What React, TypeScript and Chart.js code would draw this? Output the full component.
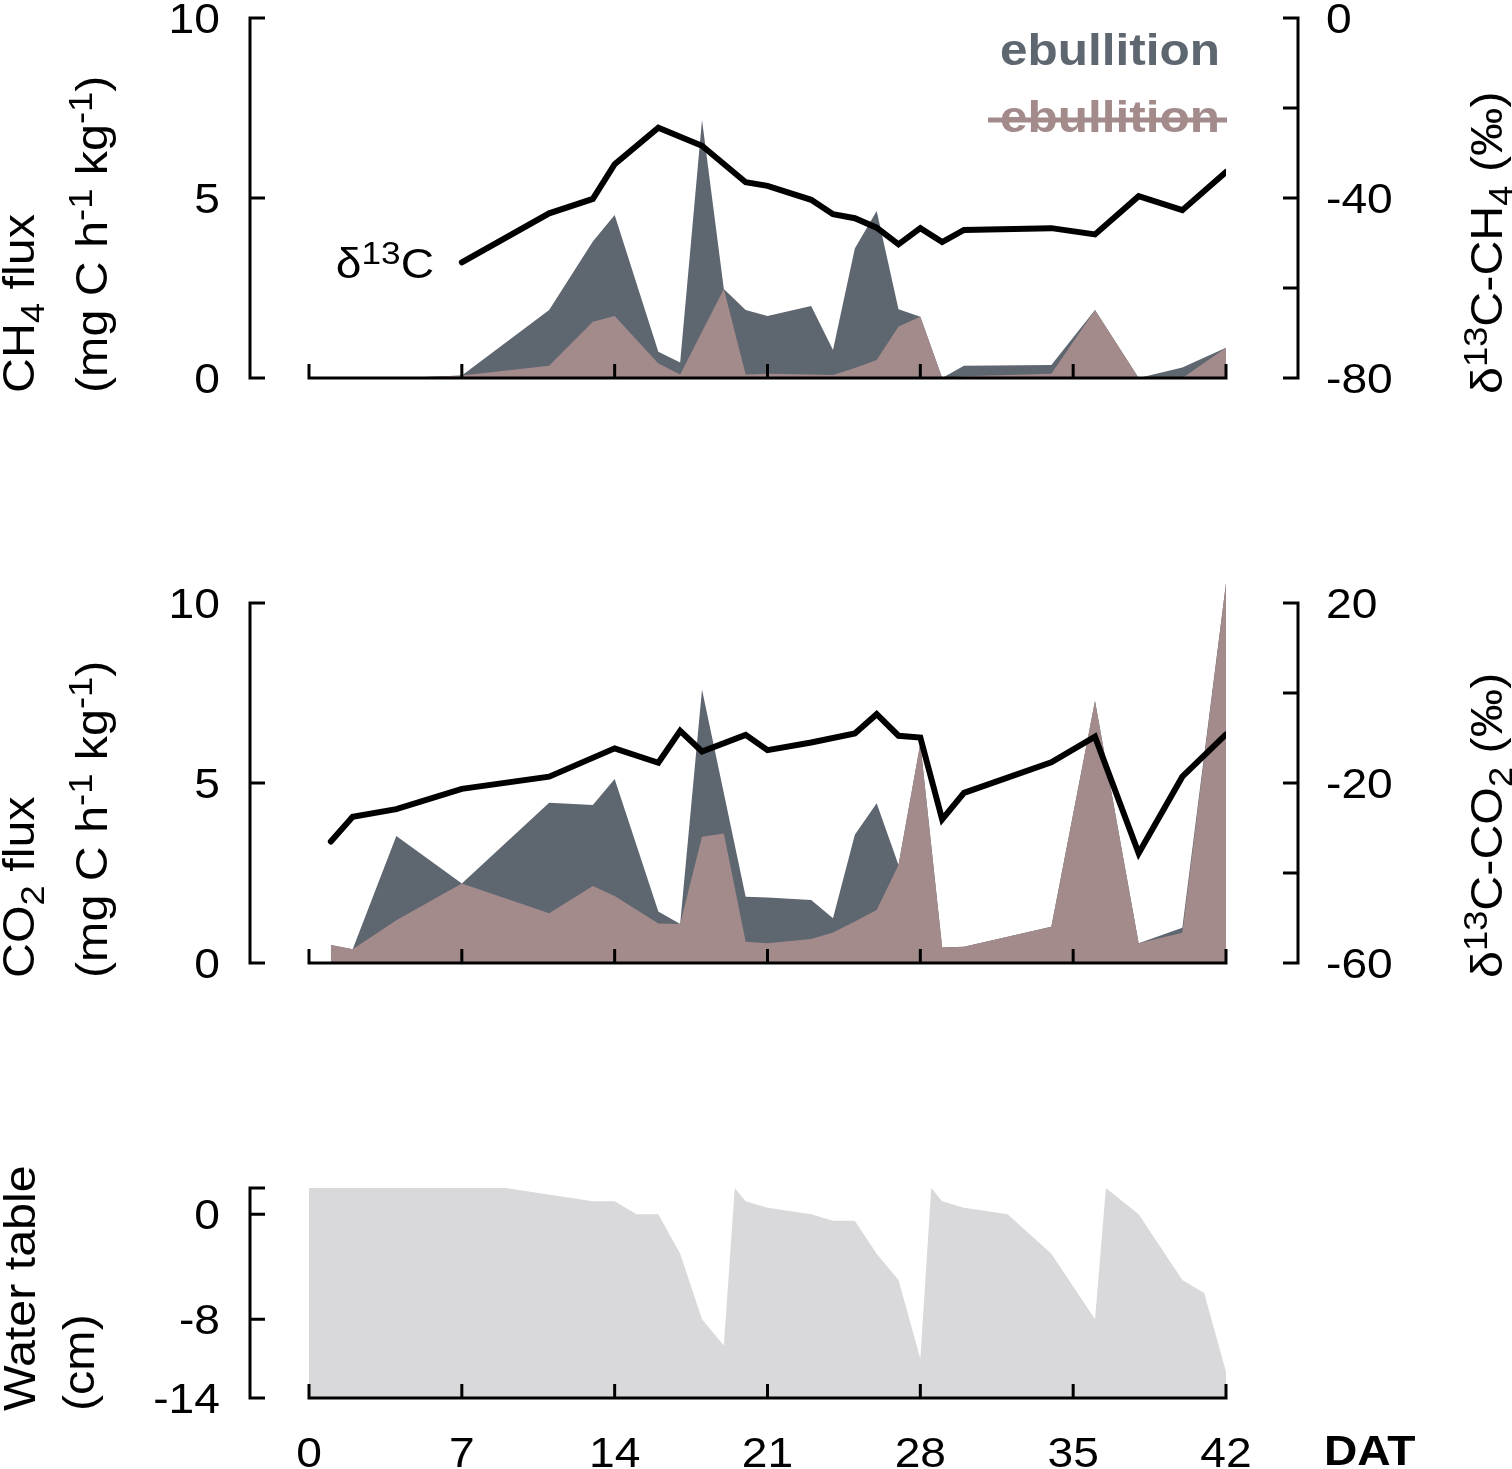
import { useEffect, useRef } from 'react';
import { Chart, registerables } from 'chart.js';

Chart.register(...registerables);

// ---- data (days after transplanting) ----
const dayTicks = [0, 7, 14, 21, 28, 35, 42];

const ch4TotalDays = [0, 2, 5, 7, 11, 13, 14, 16, 17, 18, 19, 20, 21, 23, 24, 25, 26, 27, 28, 29, 30, 34, 36, 38, 40, 42];
const ch4Total = [0, 0, 0.02, 0.07, 1.89, 3.79, 4.53, 0.73, 0.43, 7.17, 2.47, 1.89, 1.72, 2.0, 0.78, 3.6, 4.64, 1.91, 1.7, 0, 0.34, 0.36, 1.89, 0, 0.29, 0.84];
const ch4DiffDays = [0, 2, 5, 7, 11, 13, 14, 16, 17, 19, 20, 21, 23, 24, 25, 26, 27, 28, 29, 30, 34, 36, 38, 40, 42];
const ch4Diff = [0, 0, 0.02, 0.07, 0.34, 1.56, 1.72, 0.4, 0.1, 2.47, 0.1, 0.12, 0.1, 0.08, 0.28, 0.5, 1.43, 1.7, 0, 0.05, 0.12, 1.89, 0, 0, 0.84];
const d13Ch4Days = [7, 11, 13, 14, 16, 18, 20, 21, 23, 24, 25, 26, 27, 28, 29, 30, 34, 36, 38, 40, 42];
const d13Ch4 = [-54.3, -43.4, -40.2, -32.5, -24.4, -28.4, -36.5, -37.3, -40.4, -43.6, -44.5, -46.6, -50.3, -46.7, -49.8, -47.1, -46.7, -48.1, -39.6, -42.7, -34.2];

const co2TotalDays = [1, 2, 4, 7, 11, 13, 14, 16, 17, 18, 20, 21, 23, 24, 25, 26, 27, 28, 29, 30, 34, 36, 38, 40, 42];
const co2Total = [0.5, 0.38, 3.53, 2.21, 4.45, 4.39, 5.11, 1.43, 1.08, 7.6, 1.84, 1.82, 1.75, 1.24, 3.56, 4.44, 2.72, 6.1, 0.43, 0.45, 1.01, 7.28, 0.55, 0.98, 10.55];
const co2DiffDays = [1, 2, 4, 7, 11, 13, 14, 16, 17, 18, 19, 20, 21, 23, 24, 25, 26, 27, 28, 29, 30, 34, 36, 38, 40, 42];
const co2Diff = [0.5, 0.38, 1.19, 2.21, 1.38, 2.14, 1.86, 1.1, 1.08, 3.51, 3.6, 0.59, 0.55, 0.67, 0.85, 1.15, 1.47, 2.72, 6.1, 0.43, 0.45, 1.01, 7.28, 0.55, 0.84, 10.55];
const d13Co2Days = [1, 2, 4, 7, 11, 14, 16, 17, 18, 20, 21, 23, 25, 26, 27, 28, 29, 30, 34, 36, 38, 40, 42];
const d13Co2 = [-33.0, -27.5, -25.8, -21.3, -18.6, -12.3, -15.5, -8.4, -13.0, -9.3, -12.7, -11.0, -9.0, -4.7, -9.5, -9.9, -28.1, -22.2, -15.4, -9.7, -35.6, -18.6, -9.2];

const wtDays = [0, 9, 13, 14, 15, 16, 17, 18, 19, 19.5, 20, 21, 23, 24, 25, 26, 27, 28, 28.5, 29, 30, 32, 34, 36, 36.5, 38, 40, 41, 42];
const waterTable = [2, 2, 1, 1, 0, 0, -3, -8, -10, 2, 1, 0.5, 0, -0.5, -0.5, -3, -5, -11, 2, 1, 0.5, 0, -3, -8, 2, 0, -5, -6, -12];

const fluxTicks = [0, 5, 10];
const d13Ch4Ticks = [-80, -60, -40, -20, 0];
const d13Ch4Labels = [-80, -40, 0];
const d13Co2Ticks = [-60, -40, -20, 0, 20];
const d13Co2Labels = [-60, -20, 20];
const wtTicks = [-14, -8, 0, 2];
const wtLabels = [-14, -8, 0];

// ---- styling ----
const FONT = '"Liberation Sans", Arial, Helvetica, sans-serif';
const STRETCH = 1.1;
const DARK = '#5e6670';
const PINK = '#a48b8b';
const GREY = '#d9d9db';
const AXIS_L = 250;
const AXIS_R = 1298;
const TICK = 15;

type Seg = { t: string; pos?: 'sup' | 'sub' };
type TextItem = {
  segs: Seg[];
  x: number;
  y: number;
  align: 'left' | 'right' | 'center';
  size: number;
  bold?: boolean;
  color?: string;
  rotate?: boolean;
  middle?: boolean;
};
type AxisSpec = {
  scaleId: string;
  x: number;
  dir: number;
  from: number;
  to: number;
  ticks: number[];
  labels: number[];
};
type PanelSpec = {
  axes: AxisSpec[];
  texts: TextItem[];
  xLabels: boolean;
  strike?: boolean;
};

const pts = (xs: number[], ys: number[]) => xs.map((x, i) => ({ x, y: ys[i] }));

function drawRich(ctx: CanvasRenderingContext2D, it: TextItem) {
  const weight = it.bold ? 'bold ' : '';
  const fontFor = (s: Seg) => `${weight}${s.pos ? Math.round(it.size * 0.75) : it.size}px ${FONT}`;
  ctx.save();
  ctx.translate(it.x, it.y);
  if (it.rotate) ctx.rotate(-Math.PI / 2);
  ctx.scale(STRETCH, 1);
  ctx.fillStyle = it.color || '#000';
  ctx.textBaseline = 'alphabetic';
  ctx.textAlign = 'left';
  const widths = it.segs.map((s) => {
    ctx.font = fontFor(s);
    return ctx.measureText(s.t).width;
  });
  const total = widths.reduce((a, b) => a + b, 0);
  let cx = it.align === 'left' ? 0 : it.align === 'right' ? -total : -total / 2;
  const dy = it.middle ? it.size * 0.36 : 0;
  it.segs.forEach((s, i) => {
    ctx.font = fontFor(s);
    const off = s.pos === 'sup' ? -it.size * 0.34 : s.pos === 'sub' ? it.size * 0.22 : 0;
    ctx.fillText(s.t, cx, dy + off);
    cx += widths[i];
  });
  ctx.restore();
}

function decorPlugin(spec: PanelSpec) {
  return {
    id: 'decor',
    afterDraw(chart: Chart) {
      const { ctx, scales } = chart;
      const xs = scales.x;
      ctx.save();
      ctx.strokeStyle = '#000';
      ctx.lineWidth = 3;
      ctx.lineJoin = 'miter';
      ctx.lineCap = 'butt';

      // y axes, detached brackets with inward ticks
      spec.axes.forEach((ax) => {
        const sc = scales[ax.scaleId];
        const top = sc.getPixelForValue(ax.to);
        const bot = sc.getPixelForValue(ax.from);
        ctx.beginPath();
        ctx.moveTo(ax.x + ax.dir * TICK, top);
        ctx.lineTo(ax.x, top);
        ctx.lineTo(ax.x, bot);
        ctx.lineTo(ax.x + ax.dir * TICK, bot);
        ax.ticks.forEach((v) => {
          if (v === ax.from || v === ax.to) return;
          const py = sc.getPixelForValue(v);
          ctx.moveTo(ax.x, py);
          ctx.lineTo(ax.x + ax.dir * TICK, py);
        });
        ctx.stroke();
        ax.labels.forEach((v) => {
          drawRich(ctx, {
            segs: [{ t: String(v) }],
            x: ax.dir > 0 ? 220 : 1326,
            y: sc.getPixelForValue(v),
            align: ax.dir > 0 ? 'right' : 'left',
            size: 42,
            middle: true,
          });
        });
      });

      // x axis along the bottom of the left scale
      const left = spec.axes[0];
      const yb = scales[left.scaleId].getPixelForValue(left.from);
      const x0 = xs.getPixelForValue(dayTicks[0]);
      const x1 = xs.getPixelForValue(dayTicks[dayTicks.length - 1]);
      ctx.beginPath();
      ctx.moveTo(x0, yb - TICK + 1);
      ctx.lineTo(x0, yb);
      ctx.lineTo(x1, yb);
      ctx.lineTo(x1, yb - TICK + 1);
      dayTicks.slice(1, -1).forEach((d) => {
        const px = xs.getPixelForValue(d);
        ctx.moveTo(px, yb);
        ctx.lineTo(px, yb - TICK + 1);
      });
      ctx.stroke();
      if (spec.xLabels) {
        dayTicks.forEach((d) => {
          drawRich(ctx, {
            segs: [{ t: String(d) }],
            x: xs.getPixelForValue(d),
            y: yb + 54,
            align: 'center',
            size: 42,
            middle: true,
          });
        });
      }

      if (spec.strike) {
        ctx.strokeStyle = PINK;
        ctx.lineWidth = 5;
        ctx.beginPath();
        ctx.moveTo(988, 120);
        ctx.lineTo(1227, 120);
        ctx.stroke();
      }
      spec.texts.forEach((t) => drawRich(ctx, t));
      ctx.restore();
    },
  };
}

function areaSet(data: { x: number; y: number }[], color: string, order: number, fill: string) {
  return {
    data,
    yAxisID: 'y',
    backgroundColor: color,
    borderColor: 'transparent',
    borderWidth: 0,
    pointRadius: 0,
    tension: 0,
    fill,
    order,
  };
}

function lineSet(data: { x: number; y: number }[]) {
  return {
    data,
    yAxisID: 'y2',
    borderColor: '#000',
    borderWidth: 6,
    borderCapStyle: 'round' as const,
    borderJoinStyle: 'miter' as const,
    pointRadius: 0,
    tension: 0,
    fill: false,
    order: 0,
  };
}

function makeChart(
  canvas: HTMLCanvasElement,
  datasets: any[],
  scales: any,
  padding: any,
  spec: PanelSpec
) {
  return new Chart(canvas, {
    type: 'line',
    data: { datasets },
    options: {
      responsive: false,
      animation: false,
      events: [],
      layout: { padding },
      scales: {
        x: { type: 'linear', min: 0, max: 42, display: false },
        ...scales,
      },
      plugins: { legend: { display: false }, tooltip: { enabled: false } },
    },
    plugins: [decorPlugin(spec)],
  });
}

const fluxTitle = (gas: string, sub: string, y: number): TextItem[] => [
  { segs: [{ t: gas }, { t: sub, pos: 'sub' }, { t: ' flux' }], x: 34, y, align: 'left', size: 44, rotate: true },
  {
    segs: [{ t: '(mg C h' }, { t: '-1', pos: 'sup' }, { t: ' kg' }, { t: '-1', pos: 'sup' }, { t: ')' }],
    x: 107,
    y,
    align: 'left',
    size: 44,
    rotate: true,
  },
];

const deltaTitle = (gas: string, sub: string, y: number): TextItem => ({
  segs: [{ t: 'δ' }, { t: '13', pos: 'sup' }, { t: 'C-' + gas }, { t: sub, pos: 'sub' }, { t: ' (‰)' }],
  x: 1502,
  y,
  align: 'left',
  size: 44,
  rotate: true,
});

const App = () => {
  const ref1 = useRef<HTMLCanvasElement | null>(null);
  const ref2 = useRef<HTMLCanvasElement | null>(null);
  const ref3 = useRef<HTMLCanvasElement | null>(null);

  useEffect(() => {
    if (!ref1.current || !ref2.current || !ref3.current) return;
    const pad = (top: number, bottom: number) => ({ left: 309, right: 286, top, bottom });

    const c1 = makeChart(
      ref1.current,
      [
        lineSet(pts(d13Ch4Days, d13Ch4)),
        areaSet(pts(ch4DiffDays, ch4Diff), PINK, 1, 'origin'),
        areaSet(pts(ch4TotalDays, ch4Total), DARK, 2, 'origin'),
      ],
      {
        y: { min: 0, max: 10, display: false },
        y2: { min: -80, max: 0, display: false, position: 'right' },
      },
      pad(18, 92),
      {
        axes: [
          { scaleId: 'y', x: AXIS_L, dir: 1, from: 0, to: 10, ticks: fluxTicks, labels: fluxTicks },
          { scaleId: 'y2', x: AXIS_R, dir: -1, from: -80, to: 0, ticks: d13Ch4Ticks, labels: d13Ch4Labels },
        ],
        xLabels: false,
        strike: true,
        texts: [
          ...fluxTitle('CH', '4', 393),
          deltaTitle('CH', '4', 394),
          { segs: [{ t: 'δ' }, { t: '13', pos: 'sup' }, { t: 'C' }], x: 434, y: 278, align: 'right', size: 42 },
          { segs: [{ t: 'ebullition' }], x: 1220, y: 65, align: 'right', size: 45, bold: true, color: DARK },
          { segs: [{ t: 'ebullition' }], x: 1220, y: 132, align: 'right', size: 45, bold: true, color: PINK },
        ],
      }
    );

    const c2 = makeChart(
      ref2.current,
      [
        lineSet(pts(d13Co2Days, d13Co2)),
        areaSet(pts(co2DiffDays, co2Diff), PINK, 1, 'origin'),
        areaSet(pts(co2TotalDays, co2Total), DARK, 2, 'origin'),
      ],
      {
        y: { min: 0, max: 11, display: false },
        y2: { min: -60, max: 28, display: false, position: 'right' },
      },
      pad(47, 57),
      {
        axes: [
          { scaleId: 'y', x: AXIS_L, dir: 1, from: 0, to: 10, ticks: fluxTicks, labels: fluxTicks },
          { scaleId: 'y2', x: AXIS_R, dir: -1, from: -60, to: 20, ticks: d13Co2Ticks, labels: d13Co2Labels },
        ],
        xLabels: false,
        texts: [...fluxTitle('CO', '2', 458), deltaTitle('CO', '2', 458)],
      }
    );

    const c3 = makeChart(
      ref3.current,
      [areaSet(pts(wtDays, waterTable), GREY, 1, 'start')],
      { y: { min: -14, max: 2, display: false } },
      pad(58, 71),
      {
        axes: [{ scaleId: 'y', x: AXIS_L, dir: 1, from: -14, to: 2, ticks: wtTicks, labels: wtLabels }],
        xLabels: true,
        texts: [
          { segs: [{ t: 'Water table' }], x: 35, y: 281, align: 'left', size: 44, rotate: true },
          { segs: [{ t: '(cm)' }], x: 94, y: 281, align: 'left', size: 44, rotate: true },
          { segs: [{ t: 'DAT' }], x: 1324, y: 335, align: 'left', size: 42, bold: true },
        ],
      }
    );

    return () => {
      c1.destroy();
      c2.destroy();
      c3.destroy();
    };
  }, []);

  return (
    <div style={{ position: 'absolute', left: 0, top: 0, width: 1512, height: 1469, background: '#fff' }}>
      <canvas ref={ref1} width={1512} height={470} style={{ position: 'absolute', left: 0, top: 0 }} />
      <canvas ref={ref2} width={1512} height={500} style={{ position: 'absolute', left: 0, top: 520 }} />
      <canvas ref={ref3} width={1512} height={339} style={{ position: 'absolute', left: 0, top: 1130 }} />
    </div>
  );
};

export default App;
